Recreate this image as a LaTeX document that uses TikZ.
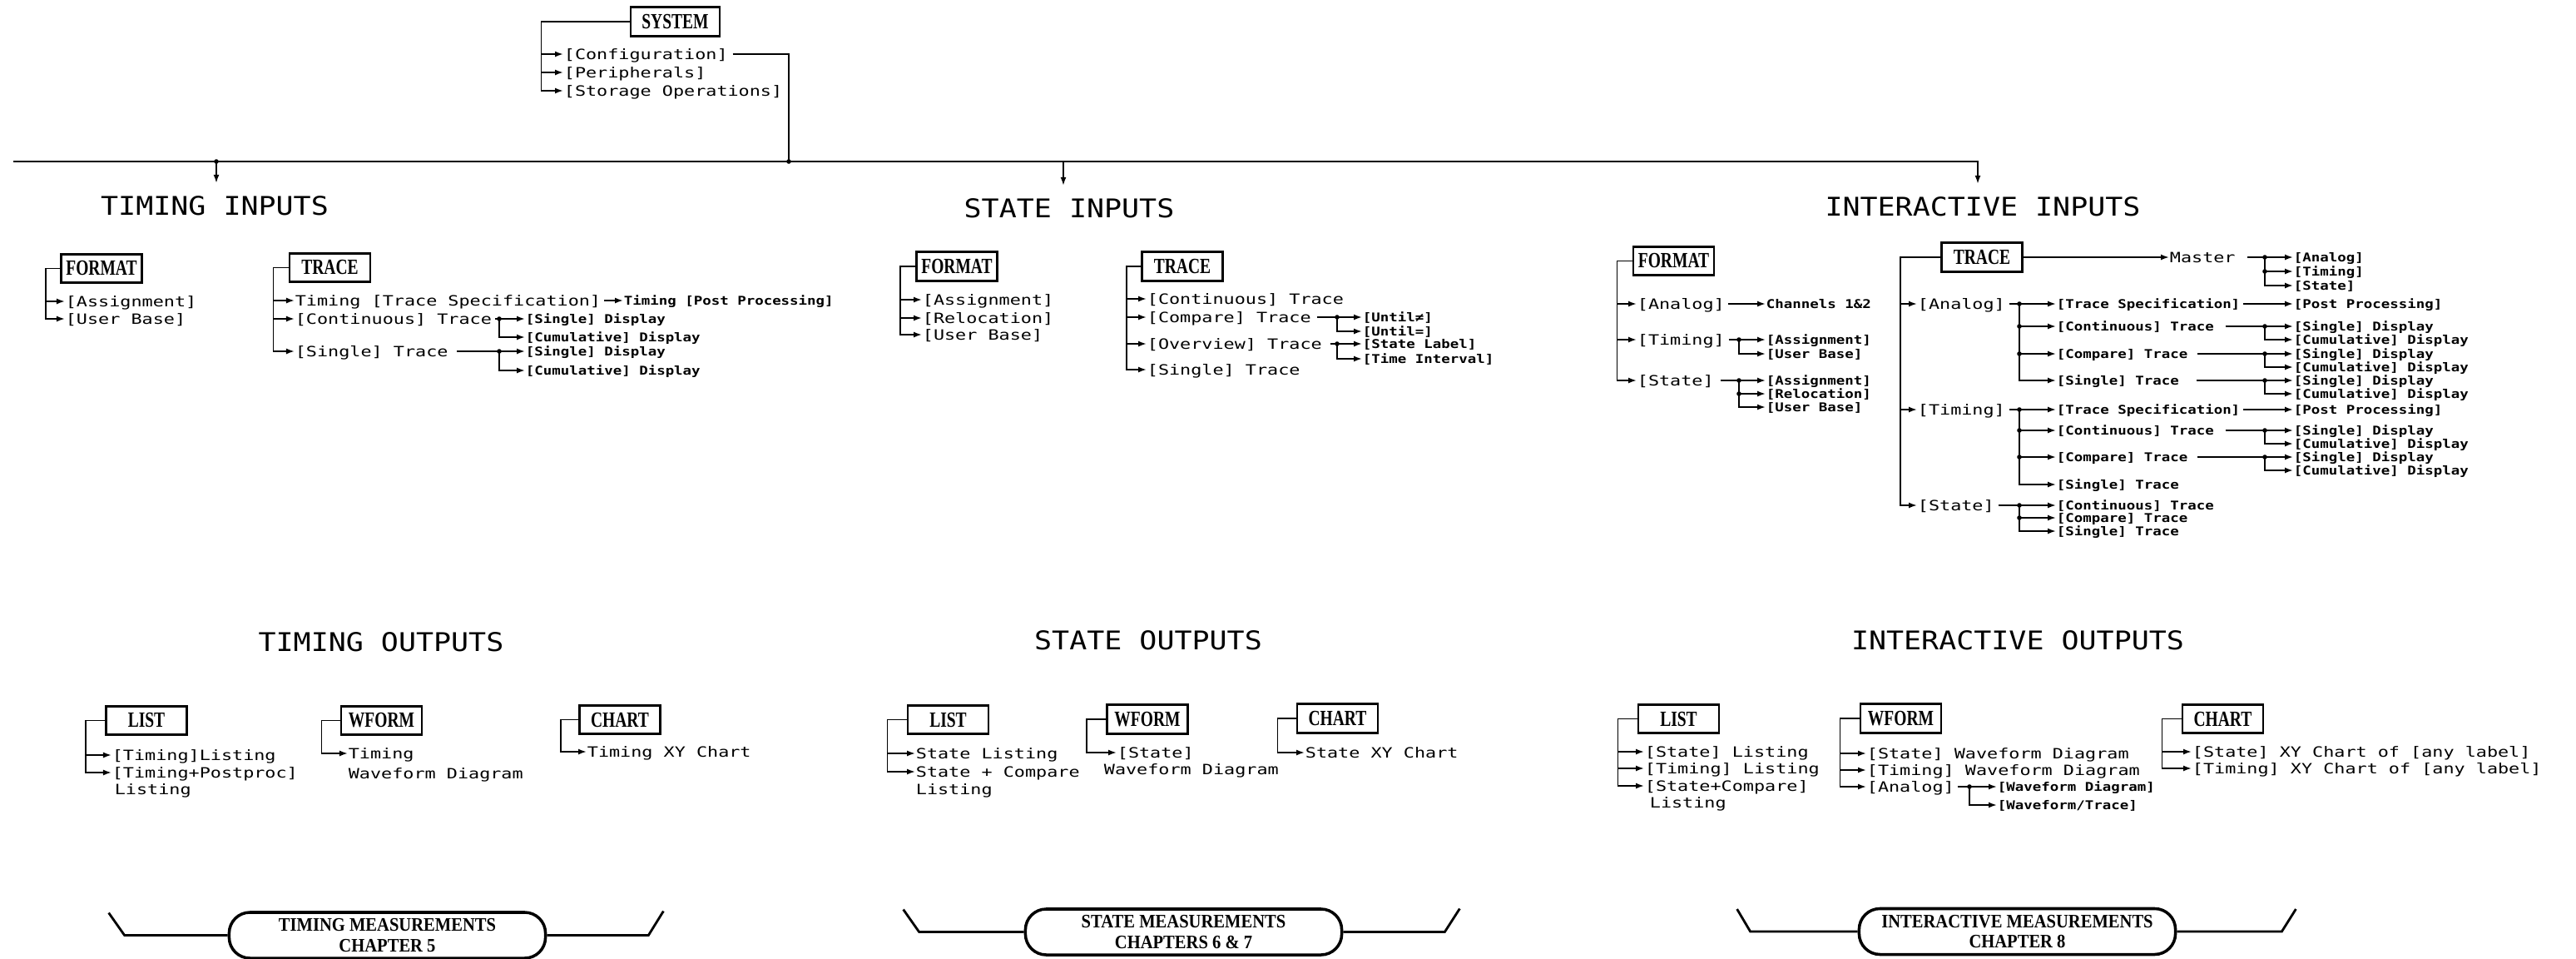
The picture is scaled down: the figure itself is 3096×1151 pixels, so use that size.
\documentclass[tikz,border=0pt]{standalone}
\usepackage{fontspec}
\newfontfamily\itemfont[FakeStretch=1.28]{DejaVu Sans Mono}
\newfontfamily\smallfont[FakeStretch=1.2]{DejaVu Sans Mono}
\newfontfamily\headfont[FakeStretch=1.13]{DejaVu Sans Mono}
\newfontfamily\boxfont[FakeStretch=0.75]{Liberation Serif}
\newfontfamily\pillfont[FakeStretch=0.9]{Liberation Serif}
\usetikzlibrary{arrows.meta, positioning, calc}

\begin{document}
\begin{tikzpicture}[
    x=0.01cm, y=-0.01cm,
    >={Latex[length=0.1cm, width=0.07cm]},
    line width=0.5pt,
    box/.style={draw, line width=0.8pt, minimum width=0.97cm, minimum height=0.345cm, inner sep=0pt,
        font=\boxfont\bfseries\fontsize{7.4pt}{8pt}\selectfont},
    item/.style={anchor=west, inner sep=0pt, text height=3.5pt, text depth=0pt,
        font=\itemfont\fontsize{4.84pt}{5.8pt}\selectfont},
    sitem/.style={anchor=west, inner sep=0pt, text height=3pt, text depth=0pt,
        font=\smallfont\bfseries\fontsize{4.13pt}{5pt}\selectfont},
    head/.style={inner sep=0.15cm, text height=6.4pt, text depth=0pt,
        font=\headfont\fontsize{8.8pt}{10pt}\selectfont},
    pill/.style={draw, line width=1pt, rounded corners=0.25cm, minimum width=3.8cm, minimum height=0.55cm,
        inner sep=0pt, align=center, font=\pillfont\bfseries\fontsize{6.5pt}{6.85pt}\selectfont}
]

\fill[white] (0,0) rectangle (3096,1151);
\useasboundingbox (0,0) rectangle (3096,1151);

\node[box, minimum width=1.07cm] (sys) at (811.5,26) {SYSTEM};
\node[item] (syscfg) at (677,65) {[Configuration]};
\node[item] (sysper) at (677,87) {[Peripherals]};
\node[item] (syssto) at (677,109) {[Storage Operations]};
\draw[->] (sys.west) -- ++(-106,0) |- (syscfg.west);
\draw[->] (sys.west) -- ++(-106,0) |- (sysper.west);
\draw[->] (sys.west) -- ++(-106,0) |- (syssto.west);

\node[head] (thd) at (258,247) {TIMING INPUTS};
\node[head] (shd) at (1285,250) {STATE INPUTS};
\node[head] (ihd) at (2383,248) {INTERACTIVE INPUTS};

\coordinate (busl) at (16,194);
\coordinate (busr) at (2377,194);
\coordinate (tjn) at (260,194);
\coordinate (sjn) at (1278,194);
\coordinate (cjn) at (948,194);
\draw[->] (busl) -- (busr) -- (busr |- ihd.north);
\draw[shorten <=0.05cm] (syscfg.east) -| (cjn);
\draw[->] (tjn) -- (tjn |- thd.north);
\draw[->] (sjn) -- (sjn |- shd.north);
\fill (cjn) circle[radius=0.028cm];
\fill (tjn) circle[radius=0.028cm];

\node[box] (tfmt) at (122,322.5) {FORMAT};
\node[item] (tfa) at (78,362) {[Assignment]};
\node[item] (tfb) at (78,383) {[User Base]};
\draw[->] (tfmt.west) -- ++(-17,0) |- (tfa.west);
\draw[->] (tfmt.west) -- ++(-17,0) |- (tfb.west);

\node[box] (ttrc) at (396.5,321.5) {TRACE};
\node[item] (tts) at (354,361) {Timing [Trace Specification]};
\node[item] (tcon) at (354,383) {[Continuous] Trace};
\node[item] (tsgl) at (354,422) {[Single] Trace};
\node[sitem] (tpp) at (749,361) {Timing [Post Processing]};
\node[sitem] (tcon1) at (631,383) {[Single] Display};
\node[sitem] (tcon2) at (631,405) {[Cumulative] Display};
\node[sitem] (tsgl1) at (631,422) {[Single] Display};
\node[sitem] (tsgl2) at (631,445) {[Cumulative] Display};
\coordinate (tconj) at (600,383);
\coordinate (tsglj) at (600,422);
\draw[->] (ttrc.west) -- ++(-18,0) |- (tts.west);
\draw[->] (ttrc.west) -- ++(-18,0) |- (tcon.west);
\draw[->] (ttrc.west) -- ++(-18,0) |- (tsgl.west);
\draw[->, shorten <=0.03cm] (tts) -- (tpp);
\draw[->, shorten <=0.03cm] (tcon) -- (tcon1);
\draw[->] (tconj) |- (tcon2.west);
\draw[->, shorten <=0.1cm] (tsgl) -- (tsgl1);
\draw[->] (tsglj) |- (tsgl2.west);
\fill (tconj) circle[radius=0.028cm];
\fill (tsglj) circle[radius=0.028cm];

\node[box] (sfmt) at (1150,320) {FORMAT};
\node[item] (sfa) at (1108,360) {[Assignment]};
\node[item] (sfr) at (1108,382) {[Relocation]};
\node[item] (sfb) at (1108,402) {[User Base]};
\draw[->] (sfmt.west) -- ++(-18,0) |- (sfa.west);
\draw[->] (sfmt.west) -- ++(-18,0) |- (sfr.west);
\draw[->] (sfmt.west) -- ++(-18,0) |- (sfb.west);

\node[box] (strc) at (1421,320) {TRACE};
\node[item] (scon) at (1378,359) {[Continuous] Trace};
\node[item] (scmp) at (1378,381) {[Compare] Trace};
\node[item] (sovw) at (1378,413) {[Overview] Trace};
\node[item] (ssgl) at (1378,444) {[Single] Trace};
\node[sitem] (scmp1) at (1637,381) {[Until≠]};
\node[sitem] (scmp2) at (1637,398) {[Until=]};
\node[sitem] (sovw1) at (1637,413) {[State Label]};
\node[sitem] (sovw2) at (1637,431) {[Time Interval]};
\coordinate (scmpj) at (1607,381);
\coordinate (sovwj) at (1607,413);
\draw[->] (strc.west) -- ++(-17,0) |- (scon.west);
\draw[->] (strc.west) -- ++(-17,0) |- (scmp.west);
\draw[->] (strc.west) -- ++(-17,0) |- (sovw.west);
\draw[->] (strc.west) -- ++(-17,0) |- (ssgl.west);
\draw[->, shorten <=0.06cm] (scmp) -- (scmp1);
\draw[->] (scmpj) |- (scmp2.west);
\draw[->, shorten <=0.09cm] (sovw) -- (sovw1);
\draw[->] (sovwj) |- (sovw2.west);
\fill (scmpj) circle[radius=0.028cm];
\fill (sovwj) circle[radius=0.028cm];

\node[box] (ifmt) at (2011.5,313.5) {FORMAT};
\node[item] (ifan) at (1967,365) {[Analog]};
\node[item] (iftm) at (1967,408) {[Timing]};
\node[item] (ifst) at (1967,457) {[State]};
\node[sitem] (ifch) at (2122,365) {Channels 1\&2};
\node[sitem] (iftm1) at (2122,408) {[Assignment]};
\node[sitem] (iftm2) at (2122,425) {[User Base]};
\node[sitem] (ifst1) at (2122,457) {[Assignment]};
\node[sitem] (ifst2) at (2122,473) {[Relocation]};
\node[sitem] (ifst3) at (2122,489) {[User Base]};
\coordinate (iftmj) at (2090,408);
\coordinate (ifstj) at (2090,457);
\draw[->] (ifmt.west) -- ++(-18,0) |- (ifan.west);
\draw[->] (ifmt.west) -- ++(-18,0) |- (iftm.west);
\draw[->] (ifmt.west) -- ++(-18,0) |- (ifst.west);
\draw[->, shorten <=0.03cm] (ifan) -- (ifch);
\draw[->, shorten <=0.04cm] (iftm) -- (iftm1);
\draw[->] (iftmj) |- (iftm2.west);
\draw[->, shorten <=0.07cm] (ifst) -- (ifst1);
\draw[->] (ifstj) |- (ifst2.west);
\draw[->] (ifstj) |- (ifst3.west);
\fill (iftmj) circle[radius=0.028cm];
\fill (ifstj) circle[radius=0.028cm];
\fill (ifstj |- ifst2) circle[radius=0.028cm];

\node[box] (itrc) at (2382,309) {TRACE};
\node[item] (imst) at (2607,309) {Master};
\node[sitem] (imst1) at (2756,309) {[Analog]};
\node[sitem] (imst2) at (2756,326) {[Timing]};
\node[sitem] (imst3) at (2756,343) {[State]};
\coordinate (imstj) at (2722,309);
\draw[->] (itrc) -- (imst);
\draw[->, shorten <=0.14cm] (imst) -- (imst1);
\draw[->] (imstj) |- (imst2.west);
\draw[->] (imstj) |- (imst3.west);
\fill (imstj) circle[radius=0.028cm];
\fill (imstj |- imst2) circle[radius=0.028cm];

\node[item] (ian) at (2304,365) {[Analog]};
\node[item] (itm) at (2304,492) {[Timing]};
\node[item] (ist) at (2304,607) {[State]};
\draw[->] (itrc.west) -- ++(-48,0) |- (ian.west);
\draw[->] (itrc.west) -- ++(-48,0) |- (itm.west);
\draw[->] (itrc.west) -- ++(-48,0) |- (ist.west);

\node[sitem] (ians) at (2471,365) {[Trace Specification]};
\node[sitem] (iane) at (2471,392) {[Continuous] Trace};
\node[sitem] (ianc) at (2471,425) {[Compare] Trace};
\node[sitem] (iang) at (2471,457) {[Single] Trace};
\node[sitem] (ianp) at (2756,365) {[Post Processing]};
\node[sitem] (iane1) at (2756,392) {[Single] Display};
\node[sitem] (iane2) at (2756,408) {[Cumulative] Display};
\node[sitem] (ianc1) at (2756,425) {[Single] Display};
\node[sitem] (ianc2) at (2756,441) {[Cumulative] Display};
\node[sitem] (iang1) at (2756,457) {[Single] Display};
\node[sitem] (iang2) at (2756,473) {[Cumulative] Display};
\coordinate (ianj) at (2427,365);
\coordinate (ianej) at (2722,392);
\coordinate (iancj) at (2722,425);
\coordinate (iangj) at (2722,457);
\draw[->, shorten <=0.04cm] (ian) -- (ians);
\draw[->] (ianj) |- (iane.west);
\draw[->] (ianj) |- (ianc.west);
\draw[->] (ianj) |- (iang.west);
\draw[->, shorten <=0.03cm] (ians) -- (ianp);
\draw[->, shorten <=0.13cm] (iane) -- (iane1);
\draw[->] (ianej) |- (iane2.west);
\draw[->, shorten <=0.11cm] (ianc) -- (ianc1);
\draw[->] (iancj) |- (ianc2.west);
\draw[->, shorten <=0.2cm] (iang) -- (iang1);
\draw[->] (iangj) |- (iang2.west);
\fill (ianj) circle[radius=0.028cm];
\fill (ianj |- iane) circle[radius=0.028cm];
\fill (ianj |- ianc) circle[radius=0.028cm];
\fill (ianej) circle[radius=0.028cm];
\fill (iancj) circle[radius=0.028cm];
\fill (iangj) circle[radius=0.028cm];

\node[sitem] (itms) at (2471,492) {[Trace Specification]};
\node[sitem] (itme) at (2471,517) {[Continuous] Trace};
\node[sitem] (itmc) at (2471,549) {[Compare] Trace};
\node[sitem] (itmg) at (2471,582) {[Single] Trace};
\node[sitem] (itmp) at (2756,492) {[Post Processing]};
\node[sitem] (itme1) at (2756,517) {[Single] Display};
\node[sitem] (itme2) at (2756,533) {[Cumulative] Display};
\node[sitem] (itmc1) at (2756,549) {[Single] Display};
\node[sitem] (itmc2) at (2756,565) {[Cumulative] Display};
\coordinate (itmj) at (2427,492);
\coordinate (itmej) at (2722,517);
\coordinate (itmcj) at (2722,549);
\draw[->, shorten <=0.04cm] (itm) -- (itms);
\draw[->] (itmj) |- (itme.west);
\draw[->] (itmj) |- (itmc.west);
\draw[->] (itmj) |- (itmg.west);
\draw[->, shorten <=0.03cm] (itms) -- (itmp);
\draw[->, shorten <=0.13cm] (itme) -- (itme1);
\draw[->] (itmej) |- (itme2.west);
\draw[->, shorten <=0.11cm] (itmc) -- (itmc1);
\draw[->] (itmcj) |- (itmc2.west);
\fill (itmj) circle[radius=0.028cm];
\fill (itmj |- itme) circle[radius=0.028cm];
\fill (itmj |- itmc) circle[radius=0.028cm];
\fill (itmej) circle[radius=0.028cm];
\fill (itmcj) circle[radius=0.028cm];

\node[sitem] (iste) at (2471,607) {[Continuous] Trace};
\node[sitem] (istc) at (2471,622) {[Compare] Trace};
\node[sitem] (istg) at (2471,638) {[Single] Trace};
\coordinate (istj) at (2427,607);
\draw[->, shorten <=0.04cm] (ist) -- (iste);
\draw[->] (istj) |- (istc.west);
\draw[->] (istj) |- (istg.west);
\fill (istj) circle[radius=0.028cm];
\fill (istj |- istc) circle[radius=0.028cm];

\node[head] (tohd) at (458,771) {TIMING OUTPUTS};
\node[head] (sohd) at (1380,769) {STATE OUTPUTS};
\node[head] (iohd) at (2425,769) {INTERACTIVE OUTPUTS};

\node[box] (tlist) at (176,865.5) {LIST};
\node[item] (tl1) at (134,907) {[Timing]Listing};
\node[item] (tl2) at (134,928) {[Timing+Postproc]};
\node[item] (tl3) at (137,948) {Listing};
\draw[->] (tlist.west) -- ++(-23,0) |- (tl1.west);
\draw[->] (tlist.west) -- ++(-23,0) |- (tl2.west);

\node[box] (twf) at (458.5,865.5) {WFORM};
\node[item] (tw1) at (418,905) {Timing};
\node[item] (tw2) at (418,929) {Waveform Diagram};
\draw[->] (twf.west) -- ++(-22,0) |- (tw1.west);

\node[box] (tch) at (745,864.5) {CHART};
\node[item] (tc1) at (705,903) {Timing XY Chart};
\draw[->] (tch.west) -- ++(-21,0) |- (tc1.west);

\node[box] (slist) at (1139.5,864.5) {LIST};
\node[item] (sl1) at (1100,905) {State Listing};
\node[item] (sl2) at (1100,927) {State + Compare};
\node[item] (sl3) at (1100,948) {Listing};
\draw[->] (slist.west) -- ++(-23,0) |- (sl1.west);
\draw[->] (slist.west) -- ++(-23,0) |- (sl2.west);

\node[box] (swf) at (1379,864) {WFORM};
\node[item] (sw1) at (1342,904) {[State]};
\node[item] (sw2) at (1326,924) {Waveform Diagram};
\draw[->] (swf.west) -- ++(-23,0) |- (sw1.west);

\node[box] (sch) at (1607.5,863) {CHART};
\node[item] (sc1) at (1568,904) {State XY Chart};
\draw[->] (sch.west) -- ++(-22,0) |- (sc1.west);

\node[box] (ilist) at (2017.5,863.5) {LIST};
\node[item] (il1) at (1976,903) {[State] Listing};
\node[item] (il2) at (1976,923) {[Timing] Listing};
\node[item] (il3) at (1976,944) {[State+Compare]};
\node[item] (il4) at (1982,964) {Listing};
\draw[->] (ilist.west) -- ++(-23,0) |- (il1.west);
\draw[->] (ilist.west) -- ++(-23,0) |- (il2.west);
\draw[->] (ilist.west) -- ++(-23,0) |- (il3.west);

\node[box] (iwf) at (2284.5,863) {WFORM};
\node[item] (iw1) at (2243,905) {[State] Waveform Diagram};
\node[item] (iw2) at (2243,925) {[Timing] Waveform Diagram};
\node[item] (iw3) at (2243,945) {[Analog]};
\node[sitem] (iw31) at (2400,945) {[Waveform Diagram]};
\node[sitem] (iw32) at (2400,967) {[Waveform/Trace]};
\coordinate (iw3j) at (2367,945);
\draw[->] (iwf.west) -- ++(-23,0) |- (iw1.west);
\draw[->] (iwf.west) -- ++(-23,0) |- (iw2.west);
\draw[->] (iwf.west) -- ++(-23,0) |- (iw3.west);
\draw[->, shorten <=0.03cm] (iw3) -- (iw31);
\draw[->] (iw3j) |- (iw32.west);
\fill (iw3j) circle[radius=0.028cm];

\node[box] (ich) at (2671.5,863.5) {CHART};
\node[item] (ic1) at (2634,903) {[State] XY Chart of [any label]};
\node[item] (ic2) at (2634,923) {[Timing] XY Chart of [any label]};
\draw[->] (ich.west) -- ++(-23,0) |- (ic1.west);
\draw[->] (ich.west) -- ++(-23,0) |- (ic2.west);

\node[pill] (tpill) at (465.5,1123.5) {TIMING MEASUREMENTS\\CHAPTER 5};
\node[pill] (spill) at (1422.5,1119.5) {STATE MEASUREMENTS\\CHAPTERS 6 \& 7};
\node[pill] (ipill) at (2424.5,1119) {INTERACTIVE MEASUREMENTS\\CHAPTER 8};
\draw[line width=0.8pt] (tpill.west) -- ++(-124,0) -- ++(-19,-27);
\draw[line width=0.8pt] (tpill.east) -- ++(122,0) -- ++(18,-29);
\draw[line width=0.8pt] (spill.west) -- ++(-126,0) -- ++(-19,-27);
\draw[line width=0.8pt] (spill.east) -- ++(122,0) -- ++(18,-28);
\draw[line width=0.8pt] (ipill.west) -- ++(-129,0) -- ++(-16,-27);
\draw[line width=0.8pt] (ipill.east) -- ++(126,0) -- ++(17,-27);

\end{tikzpicture}
\end{document}
